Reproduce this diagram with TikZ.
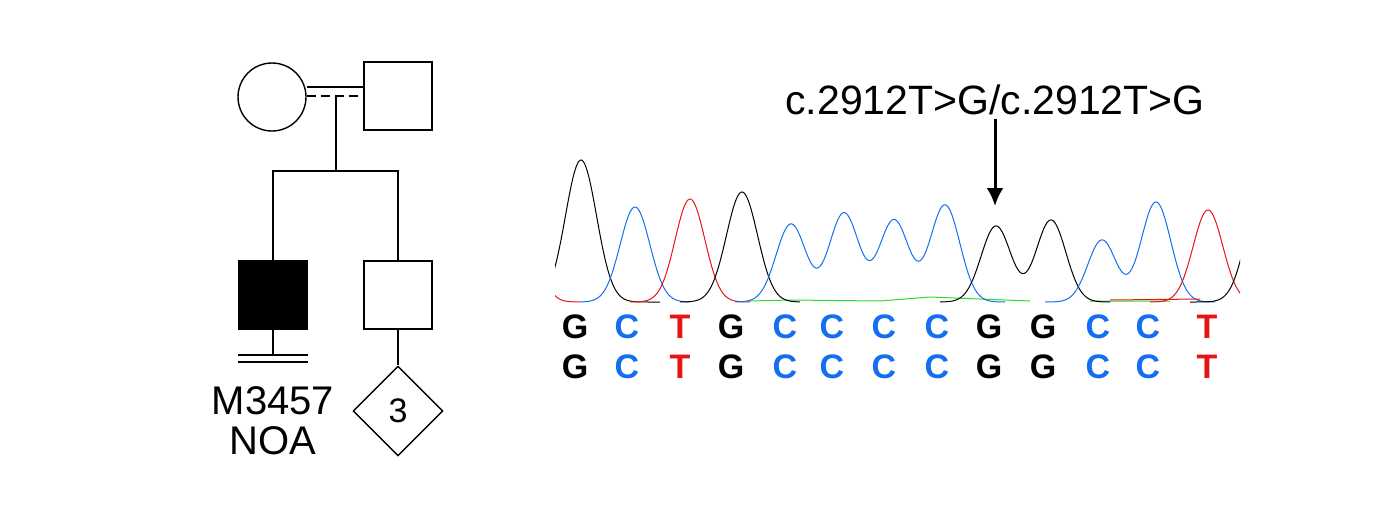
\documentclass[tikz,border=0pt]{standalone}
\usepackage{fontspec}
\setmainfont{Liberation Sans}
\usetikzlibrary{shapes.geometric,arrows.meta}
\definecolor{bblue}{RGB}{20,110,240}
\definecolor{rred}{RGB}{230,20,20}
\definecolor{gline}{RGB}{40,220,40}
\begin{document}
\begin{tikzpicture}[x=1pt,y=-1pt,
  ped/.style={draw,line width=1.4pt},
  base/.style={font=\bfseries\fontsize{34}{34}\selectfont},
  tr/.style={line width=1pt}]
\useasboundingbox (0,0) rectangle (1384,512);
% pedigree
\node[ped,circle,minimum size=68pt,inner sep=0] (mo) at (272,97) {};
\node[ped,minimum size=68pt,inner sep=0] (fa) at (398,96) {};
\node[ped,fill=black,minimum size=68pt,inner sep=0] (p) at (273,295) {};
\node[ped,minimum size=68pt,inner sep=0] (b) at (398,295) {};
\node[ped,diamond,minimum size=90pt,inner sep=0,font=\fontsize{34}{34}\selectfont] (d) at (398,411) {3};
\coordinate (m1) at (336,96);
\coordinate (s) at (336,171);
\draw[ped] (mo.east |- 0,87) -- (fa.west |- 0,87);
\draw[ped,dash pattern=on 9pt off 5pt] (mo.east |- 0,96) -- (fa.west |- 0,96);
\draw[ped] (m1) -- (s);
\draw[ped] (p.north) -- (p.north |- s) -- (b.north |- s) -- (b.north);
\draw[ped] (b.south) -- (d.north);
\coordinate (pd) at (273,355);
\draw[ped] (p.south) -- (pd);
\draw[ped] (238,355) -- (308,355) (238,362) -- (308,362);
\node[font=\fontsize{40}{40}\selectfont,align=center] (lab) at (273,421) {M3457\\NOA};
% chromatogram
\begin{scope}
\clip (555,140) rectangle (1240,303);
\def\g#1#2#3{#2*exp(-((\x-#1)/#3)^2)}
\draw[tr,gline] (750,301) -- (790,300) -- (880,301) -- (930,297) -- (1030,301) (1090,301) -- (1170,301);
\draw[tr,black,domain=540:660,samples=100] plot (\x,{302-\g{581}{142}{22}});
\draw[tr,bblue,domain=580:690,samples=100] plot (\x,{302-\g{635}{95}{21}});
\draw[tr,rred,domain=630:750,samples=100] plot (\x,{302-\g{690}{103}{21}});
\draw[tr,rred,domain=540:580,samples=30] plot (\x,{302-\g{520}{103}{21}});
\draw[tr,black,domain=680:800,samples=100] plot (\x,{302-\g{742}{110}{22}});
\draw[tr,bblue,domain=735:1005,samples=200] plot (\x,{302-\g{791}{78}{21}-\g{844}{89}{21}-\g{894}{82}{21}-\g{945}{97}{21}});
\draw[tr,black,domain=940:1110,samples=150] plot (\x,{302-\g{996}{76}{21}-\g{1051}{82}{21}});
\draw[tr,bblue,domain=1045:1215,samples=150] plot (\x,{302-\g{1102}{62}{20}-\g{1156}{100}{21}});
\draw[tr,rred,domain=1150:1265,samples=100] plot (\x,{302-\g{1208}{92}{21}});
\draw[tr,black,domain=1190:1245,samples=40] plot (\x,{302-\g{1262}{110}{22}});
\draw[tr,rred] (1110,300) -- (1200,299);
\end{scope}
% bases
\foreach \row in {327,367}{
\foreach \x/\b/\c in {575/G/black,627/C/bblue,680/T/rred,731/G/black,785/C/bblue,832/C/bblue,884/C/bblue,937/C/bblue,989/G/black,1043/G/black,1098/C/bblue,1148/C/bblue,1207/T/rred}
  \node[base,text=\c] at (\x,\row) {\b};}
\node[font=\fontsize{41}{41}\selectfont] (mut) at (995,100) {c.2912T>G/c.2912T>G};
\coordinate (tip) at (995,206);
\draw[line width=3pt,-{Latex[length=18pt,width=17pt]}] (mut.south) -- (tip);
\end{tikzpicture}
\end{document}
